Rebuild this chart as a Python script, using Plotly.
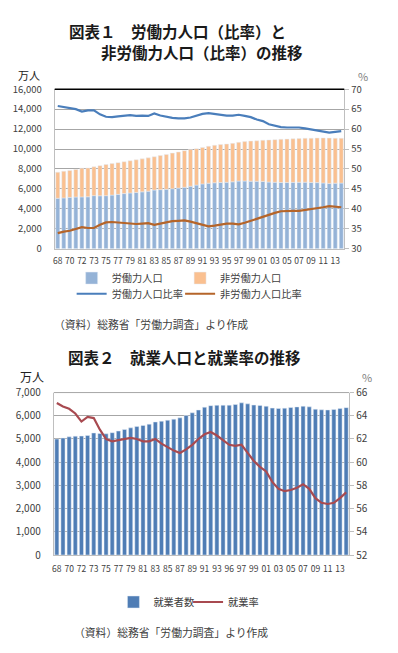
import plotly.graph_objects as go

# ---------------- data ----------------
categories = ["68", "69", "70", "71", "72", "72'", "73", "74", "75", "76", "77", "78", "79",
              "80", "81", "82", "83", "84", "85", "86", "87", "88", "89", "90", "91", "92",
              "93", "94", "95", "96", "97", "98", "99", "00", "01", "02", "03", "04", "05",
              "06", "07", "08", "09", "10", "11", "12", "13", "14"]

tick_labels_1 = ["68", "70", "72", "73", "75", "77", "79", "81", "83", "85", "87", "89",
                 "91", "93", "95", "97", "99", "01", "03", "05", "07", "09", "11", "13"]
tick_labels_2 = ["68", "70", "72", "73", "75", "77", "79", "81", "83", "85", "87", "89",
                 "91", "93", "96", "97", "99", "01", "03", "05", "07", "09", "11", "13"]

# 労働力人口 (万人)
labour_force = [5061, 5098, 5153, 5186, 5199, 5211, 5326, 5310, 5323, 5378, 5452, 5532, 5596,
                5650, 5707, 5774, 5889, 5927, 5963, 6020, 6084, 6166, 6270, 6384, 6505, 6578,
                6615, 6645, 6666, 6711, 6787, 6793, 6779, 6766, 6752, 6689, 6666, 6642, 6650,
                6657, 6669, 6674, 6650, 6632, 6596, 6555, 6577, 6587]
# 非労働力人口 (万人)
non_labour_force = [2620, 2680, 2706, 2770, 2880, 2890, 2890, 3020, 3120, 3160, 3183, 3192, 3230,
                    3268, 3308, 3342, 3335, 3419, 3500, 3570, 3620, 3670, 3695, 3657, 3657, 3700,
                    3763, 3804, 3836, 3857, 3887, 3952, 4024, 4057, 4132, 4219, 4275, 4335, 4346,
                    4367, 4377, 4404, 4430, 4473, 4514, 4540, 4506, 4489]
# 労働力人口比率 (%)
labour_ratio = [65.8, 65.5, 65.3, 65.0, 64.4, 64.7, 64.7, 63.7, 63.1, 63.0, 63.2, 63.4, 63.5,
                63.3, 63.4, 63.3, 63.9, 63.4, 63.1, 62.8, 62.7, 62.7, 62.9, 63.4, 63.8, 64.0,
                63.8, 63.5, 63.4, 63.4, 63.6, 63.3, 63.0, 62.4, 62.0, 61.2, 60.8, 60.5, 60.4,
                60.4, 60.4, 60.2, 59.9, 59.6, 59.3, 59.1, 59.3, 59.5]
# 非労働力人口比率 (%)
non_labour_ratio = [33.9, 34.3, 34.5, 34.9, 35.4, 35.2, 35.2, 36.0, 36.6, 36.7, 36.6, 36.4, 36.3,
                    36.2, 36.3, 36.4, 36.0, 36.3, 36.7, 36.9, 37.0, 37.1, 36.8, 36.4, 36.0, 35.6,
                    35.8, 36.0, 36.3, 36.3, 36.1, 36.5, 37.0, 37.5, 37.9, 38.6, 39.0, 39.4, 39.5,
                    39.5, 39.5, 39.7, 39.9, 40.1, 40.4, 40.7, 40.6, 40.4]

# 就業者数 (万人)
employed = [4996, 5040, 5094, 5121, 5126, 5150, 5259, 5237, 5223, 5271, 5342, 5408, 5479,
            5536, 5581, 5638, 5733, 5766, 5807, 5853, 5911, 6011, 6128, 6249, 6369, 6436,
            6450, 6453, 6457, 6486, 6557, 6514, 6462, 6446, 6412, 6330, 6316, 6329, 6356,
            6382, 6412, 6385, 6282, 6257, 6250, 6270, 6311, 6351]
# 就業率 (%)
employment_rate = [65.1, 64.8, 64.6, 64.2, 63.5, 63.9, 63.8, 62.8, 62.0, 61.8, 61.9, 62.0, 62.1,
                   62.0, 61.8, 61.8, 62.0, 61.6, 61.3, 61.0, 60.8, 61.1, 61.5, 62.0, 62.4, 62.6,
                   62.3, 61.9, 61.5, 61.4, 61.5, 60.8, 60.1, 59.6, 59.2, 58.3, 57.7, 57.5, 57.6,
                   57.8, 58.1, 57.7, 56.9, 56.5, 56.4, 56.5, 56.9, 57.4]

# ---------------- styling ----------------
W, H = 398, 653
FONT = "Noto Sans CJK JP"
TXT = "#404040"
GRID = "#a6a6a6"


def px_x(p):
    return p / W


def px_y(p):
    return 1 - p / H


fig = go.Figure()

# Chart 1
fig.add_trace(go.Bar(x=categories, y=labour_force, name="労働力人口", marker_color="#95b3d7",
                     xaxis="x", yaxis="y", legend="legend", offsetgroup="a"))
fig.add_trace(go.Bar(x=categories, y=non_labour_force, name="非労働力人口", marker_color="#fac090",
                     xaxis="x", yaxis="y", legend="legend2", offsetgroup="a", base=labour_force))
fig.add_trace(go.Scatter(x=categories, y=labour_ratio, name="労働力人口比率", mode="lines",
                         line=dict(color="#4a7ebb", width=2.2), xaxis="x", yaxis="y2",
                         legend="legend3"))
fig.add_trace(go.Scatter(x=categories, y=non_labour_ratio, name="非労働力人口比率", mode="lines",
                         line=dict(color="#b5652a", width=2.2), xaxis="x", yaxis="y2",
                         legend="legend4"))

# Chart 2
fig.add_trace(go.Bar(x=categories, y=employed, name="就業者数", marker_color="#4f7db5",
                     xaxis="x2", yaxis="y3", legend="legend5"))
fig.add_trace(go.Scatter(x=categories, y=employment_rate, name="就業率", mode="lines",
                         line=dict(color="#a84a50", width=2.2), xaxis="x2", yaxis="y4",
                         legend="legend6"))

tickfont = dict(family=FONT, size=9.5, color=TXT)
xt_font = dict(family=FONT, size=8.5, color=TXT)
leg_font = dict(family=FONT, size=10.2, color=TXT)


def leg(text_x, y_mid):
    # place a single-item legend so its text starts near text_x (px), centred on y_mid (px)
    return dict(orientation="v", x=px_x(text_x - 40), y=px_y(y_mid), xanchor="left",
                yanchor="middle", itemwidth=30, font=leg_font, bgcolor="rgba(0,0,0,0)",
                borderwidth=0)


fig.update_layout(
    width=W, height=H,
    margin=dict(l=0, r=0, t=0, b=0),
    paper_bgcolor="white", plot_bgcolor="white",
    font=dict(family=FONT, color=TXT),
    bargap=0.33,
    showlegend=True,
    xaxis=dict(domain=[px_x(53), px_x(344)], anchor="y", type="category",
               categoryorder="array", categoryarray=categories,
               tickmode="array", tickvals=categories[::2], ticktext=tick_labels_1,
               tickangle=0, tickfont=xt_font, showgrid=False, showline=True,
               linecolor="#bfbfbf", linewidth=1, ticks="", ticklabelstandoff=4,
               range=[-0.5, len(categories) - 0.5]),
    yaxis=dict(domain=[px_y(246), px_y(83)], anchor="x", range=[0, 16000], dtick=2000,
               tickformat=",", tickfont=tickfont, showgrid=True, gridcolor=GRID,
               gridwidth=1, showline=True, linecolor="#bfbfbf", zeroline=False,
               ticks="", ticklabelstandoff=10),
    yaxis2=dict(overlaying="y", anchor="x", side="right", range=[30, 70], dtick=5,
                tickfont=tickfont, showgrid=False, showline=True, linecolor="#bfbfbf",
                ticks="outside", ticklen=4, tickcolor="#bfbfbf", zeroline=False),
    xaxis2=dict(domain=[px_x(52), px_x(349)], anchor="y3", type="category",
                categoryorder="array", categoryarray=categories,
                tickmode="array", tickvals=categories[::2], ticktext=tick_labels_2,
                tickangle=0, tickfont=xt_font, showgrid=False, showline=True,
                linecolor="#bfbfbf", linewidth=1, ticks="", ticklabelstandoff=6,
                range=[-0.5, len(categories) - 0.5]),
    yaxis3=dict(domain=[px_y(559), px_y(393)], anchor="x2", range=[0, 7000], dtick=1000,
                tickformat=",", tickfont=dict(family=FONT, size=10, color=TXT), showgrid=True,
                gridcolor=GRID, gridwidth=1, showline=True, linecolor="#bfbfbf",
                zeroline=False, ticks="", ticklabelstandoff=10),
    yaxis4=dict(overlaying="y3", anchor="x2", side="right", range=[52, 66], dtick=2,
                tickfont=dict(family=FONT, size=10, color=TXT), showgrid=False, showline=True,
                linecolor="#bfbfbf", ticks="outside", ticklen=4, tickcolor="#bfbfbf",
                zeroline=False),
    legend=leg(110, 276),
    legend2=leg(219, 276),
    legend3=leg(110, 292),
    legend4=leg(219, 292),
    legend5=leg(152, 607),
    legend6=leg(227, 607),
)

# top borders of the plot areas
fig.add_shape(type="line", xref="x domain", yref="y domain", x0=0, x1=1, y0=1, y1=1,
              line=dict(color="#000000", width=1.5))
fig.add_shape(type="line", xref="x2 domain", yref="y3 domain", x0=0, x1=1, y0=1, y1=1,
              line=dict(color="#a6a6a6", width=1))

annots = [
    dict(text="<b>図表１　労働力人口（比率）と</b>", x=px_x(65), y=px_y(24), xanchor="left",
         font=dict(size=15.5, color="#1a1a1a")),
    dict(text="<b>非労働力人口（比率）の推移</b>", x=px_x(97), y=px_y(45), xanchor="left",
         font=dict(size=15.5, color="#1a1a1a")),
    dict(text="万人", x=px_x(14), y=px_y(68), xanchor="left", font=dict(size=11, color="#202020")),
    dict(text="%", x=px_x(356), y=px_y(69), xanchor="left", font=dict(size=11, color="#808080")),
    dict(text="（資料）総務省「労働力調査」より作成", x=px_x(50), y=px_y(323), xanchor="left",
         font=dict(size=10.8, color=TXT)),
    dict(text="<b>図表２　就業人口と就業率の推移</b>", x=px_x(64), y=px_y(357), xanchor="left",
         font=dict(size=15.5, color="#1a1a1a")),
    dict(text="万人", x=px_x(16), y=px_y(377), xanchor="left", font=dict(size=12, color="#202020")),
    dict(text="%", x=px_x(360), y=px_y(377), xanchor="left", font=dict(size=11, color="#808080")),
    dict(text="（資料）総務省「労働力調査」より作成", x=px_x(70), y=px_y(638), xanchor="left",
         font=dict(size=10.8, color=TXT)),
]
for a in annots:
    a.update(xref="paper", yref="paper", yanchor="middle", showarrow=False)
    a["font"]["family"] = FONT
    fig.add_annotation(**a)

fig.write_html("out.html", config={"displayModeBar": False},
               post_script="document.body.style.margin='0px';document.body.style.overflow='hidden';")
